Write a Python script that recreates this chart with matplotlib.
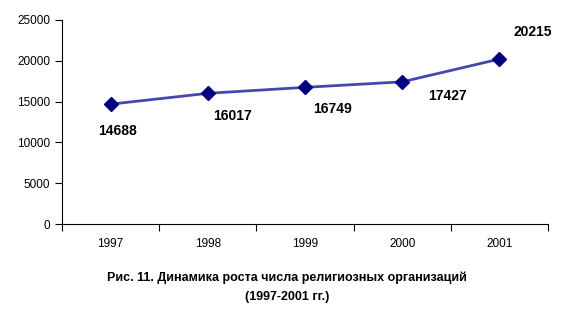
import matplotlib.pyplot as plt
import numpy as np

years = ['1997', '1998', '1999', '2000', '2001']
counts = [14688, 16017, 16749, 17427, 20215]
# label offsets in pixels relative to each point
label_dx = [7, 25, 27, 45, 33]
label_dy = [-27, -23, -22, -14, 27]

plt.rcParams['font.family'] = ['Liberation Sans', 'DejaVu Sans']

fig = plt.figure(figsize=(5.68, 3.17), dpi=100)
ax = fig.add_axes([0.109, 0.293, 0.856, 0.644])

x = np.arange(len(years))
ax.plot(x, counts, color='#4646b0', linewidth=2, marker='D',
        markersize=7, markerfacecolor='#000080', markeredgecolor='#000080')

for i in range(len(counts)):
    ax.annotate(str(counts[i]), (x[i], counts[i]),
                xytext=(label_dx[i], label_dy[i]), textcoords='offset pixels',
                ha='center', va='center', fontsize=10, fontweight='bold')

ax.set_xlim(-0.5, len(years) - 0.5)
ax.set_ylim(0, 25000)
ax.set_yticks(range(0, 25001, 5000))
ax.tick_params(axis='y', labelsize=8.5, length=5, direction='out')

ax.set_xticks(np.arange(-0.5, len(years), 1))
ax.set_xticklabels([])
ax.set_xticks(x, minor=True)
ax.set_xticklabels(years, minor=True)
ax.tick_params(axis='x', which='major', length=5, direction='out')
ax.tick_params(axis='x', which='minor', length=0, labelsize=8.5, pad=10)

ax.spines['top'].set_visible(False)
ax.spines['right'].set_visible(False)

fig.text(0.505, 0.093, 'Рис. 11. Динамика роста числа религиозных организаций\n(1997-2001 гг.)',
         ha='center', va='center', fontsize=9, fontweight='bold', linespacing=1.75)

fig.savefig('out.png', dpi=100)
